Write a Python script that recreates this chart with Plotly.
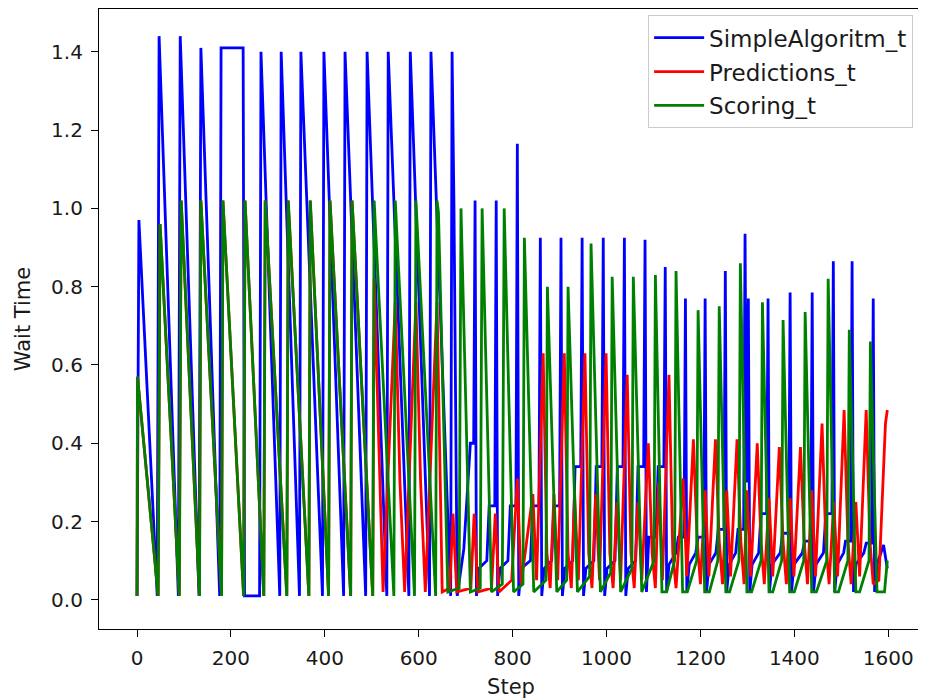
import plotly.graph_objects as go

# ---------------- data ----------------
blue_steps = [0, 4, 43, 47, 88, 92, 132, 136, 176, 179, 226, 229, 261, 264, 304, 307, 346, 349,
              395, 398, 440, 443, 487, 490, 532, 535, 579, 582, 623, 626, 668, 671, 675, 682,
              696, 710, 717, 720, 723,
              728, 745, 750, 762, 765, 768,
              773, 790, 795, 807, 810, 813,
              818, 838, 843, 856, 859, 862,
              867, 883, 888, 900, 903, 906,
              911, 928, 933, 945, 948, 951,
              956, 973, 978, 990, 993, 996,
              1001, 1018, 1023, 1035, 1038, 1041,
              1046, 1062, 1067, 1079, 1082, 1085,
              1090, 1105, 1110, 1122, 1125, 1128,
              1133, 1148, 1153, 1165, 1168, 1171,
              1176, 1190, 1195, 1207, 1210, 1213,
              1218, 1233, 1238, 1250, 1253, 1256,
              1261, 1275, 1280, 1292, 1295, 1298, 1302, 1305,
              1310, 1324, 1329, 1341, 1344, 1347,
              1352, 1370, 1375, 1388, 1391, 1394,
              1399, 1417, 1422, 1435, 1438, 1441,
              1446, 1462, 1467, 1480, 1483, 1486,
              1491, 1505, 1509, 1520, 1523, 1526,
              1531, 1548, 1553, 1565, 1568, 1571,
              1576, 1590, 1598]
blue_values = [0.01, 0.97, 0.01, 1.44, 0.01, 1.44, 0.01, 1.41, 0.01, 1.41, 1.41, 0.01, 0.01, 1.40, 0.01, 1.40, 0.01, 1.40,
               0.01, 1.40, 0.01, 1.40, 0.01, 1.40, 0.01, 1.40, 0.01, 1.40, 0.01, 1.40, 0.01, 1.40, 1.01, 0.01,
               0.13, 0.40, 0.40, 1.02, 0.01,
               0.08, 0.10, 0.24, 0.24, 1.02, 0.01,
               0.08, 0.10, 0.24, 0.24, 1.165, 0.01,
               0.08, 0.10, 0.24, 0.24, 0.925, 0.01,
               0.08, 0.10, 0.24, 0.24, 0.925, 0.01,
               0.08, 0.10, 0.34, 0.34, 0.925, 0.01,
               0.08, 0.10, 0.34, 0.34, 0.925, 0.01,
               0.08, 0.10, 0.34, 0.34, 0.925, 0.01,
               0.08, 0.10, 0.34, 0.34, 0.92, 0.02,
               0.16, 0.16, 0.34, 0.34, 0.85, 0.02,
               0.09, 0.12, 0.16, 0.16, 0.77, 0.02,
               0.09, 0.12, 0.16, 0.16, 0.77, 0.02,
               0.09, 0.12, 0.18, 0.18, 0.84, 0.02,
               0.09, 0.12, 0.18, 0.18, 0.935, 0.30, 0.77, 0.02,
               0.09, 0.12, 0.22, 0.22, 0.77, 0.02,
               0.09, 0.12, 0.17, 0.17, 0.785, 0.02,
               0.09, 0.12, 0.15, 0.15, 0.785, 0.02,
               0.09, 0.12, 0.22, 0.22, 0.865, 0.02,
               0.09, 0.12, 0.15, 0.15, 0.865, 0.02,
               0.09, 0.12, 0.145, 0.145, 0.77, 0.02,
               0.09, 0.14, 0.08]

red_steps = [0, 1, 45, 49, 90, 94, 133, 136, 180, 183, 227, 230, 270, 273, 319, 322, 366, 369,
             408, 411, 455, 458, 502, 505, 524, 550, 560, 570, 594, 604, 614, 639, 650, 666, 673, 681,
             711, 718, 726, 755, 763, 771, 798, 810, 818, 843, 851, 865, 873, 880, 888, 896, 910, 918,
             925, 932, 940, 954, 962, 969, 977, 985, 999, 1007, 1014, 1022, 1030, 1044, 1052, 1059,
             1067, 1075, 1089, 1097, 1104, 1111, 1119, 1133, 1141, 1148, 1163, 1171, 1185, 1193, 1200,
             1210, 1218, 1232, 1240, 1247, 1256, 1264, 1278, 1286, 1293, 1299, 1307, 1321, 1329, 1336,
             1346, 1354, 1368, 1376, 1383, 1391, 1399, 1413, 1421, 1428, 1437, 1445, 1459, 1467, 1474,
             1484, 1492, 1506, 1514, 1521, 1531, 1539, 1553, 1561, 1568, 1580, 1594, 1598]
red_values = [0.01, 0.57, 0.01, 0.96, 0.01, 1.02, 0.01, 1.02, 0.01, 1.02, 0.01, 1.02, 0.01, 1.02, 0.01, 1.02, 0.01, 1.02,
              0.01, 1.02, 0.01, 1.02, 0.01, 0.82, 0.02, 0.76, 0.30, 0.02, 0.76, 0.30, 0.02, 0.76, 0.02, 0.03, 0.22, 0.02,
              0.03, 0.22, 0.02, 0.03, 0.22, 0.02, 0.05, 0.31, 0.04, 0.27, 0.05, 0.63, 0.12, 0.03, 0.27, 0.05, 0.63, 0.12,
              0.03, 0.27, 0.05, 0.63, 0.12, 0.03, 0.27, 0.05, 0.63, 0.12, 0.03, 0.25, 0.05, 0.575, 0.12, 0.03,
              0.25, 0.05, 0.40, 0.12, 0.03, 0.30, 0.05, 0.575, 0.12, 0.03, 0.31, 0.06, 0.41, 0.15, 0.04,
              0.28, 0.06, 0.41, 0.15, 0.04, 0.28, 0.06, 0.41, 0.15, 0.04, 0.28, 0.06, 0.40, 0.15, 0.04,
              0.26, 0.06, 0.39, 0.15, 0.04, 0.26, 0.06, 0.39, 0.15, 0.04, 0.28, 0.06, 0.45, 0.15, 0.04,
              0.25, 0.06, 0.485, 0.15, 0.04, 0.25, 0.06, 0.485, 0.15, 0.04, 0.05, 0.45, 0.485]

green_steps = [0, 1, 45, 49, 90, 94, 133, 136, 180, 183, 227, 230, 270, 273, 319, 322, 366, 369,
               408, 411, 455, 458, 502, 505, 547, 550, 591, 594, 636, 639, 642, 662, 686, 690, 710, 731,
               735, 755, 778, 782, 802, 822, 825, 845, 871, 874, 894, 915, 918, 938, 964, 967, 987, 1009,
               1012, 1030, 1054, 1057, 1075, 1101, 1104, 1118, 1128, 1145, 1148, 1162, 1172, 1192, 1195,
               1209, 1219, 1237, 1240, 1254, 1262, 1282, 1285, 1299, 1309, 1329, 1332, 1346, 1354, 1373,
               1376, 1390, 1400, 1420, 1423, 1437, 1447, 1469, 1472, 1486, 1494, 1514, 1517, 1531, 1539,
               1559, 1562, 1576, 1592, 1598]
green_values = [0.01, 0.57, 0.01, 0.96, 0.01, 1.02, 0.01, 1.02, 0.01, 1.02, 0.01, 1.02, 0.01, 1.02, 0.01, 1.02, 0.01, 1.02,
                0.01, 1.02, 0.01, 1.02, 0.01, 1.02, 0.01, 1.02, 0.01, 1.02, 0.01, 1.02, 0.99, 0.02, 0.03, 1.00, 0.02, 0.03,
                1.00, 0.02, 0.04, 1.00, 0.02, 0.04, 0.925, 0.02, 0.05, 0.80, 0.02, 0.05, 0.80, 0.02, 0.06, 0.91, 0.02, 0.07,
                0.825, 0.02, 0.08, 0.825, 0.02, 0.10, 0.83, 0.02, 0.02, 0.10, 0.84, 0.02, 0.02, 0.10, 0.74,
                0.02, 0.02, 0.10, 0.75, 0.02, 0.02, 0.10, 0.86, 0.02, 0.02, 0.10, 0.76, 0.02, 0.02, 0.10,
                0.715, 0.02, 0.02, 0.10, 0.735, 0.02, 0.02, 0.10, 0.82, 0.02, 0.02, 0.10, 0.69, 0.02, 0.02,
                0.10, 0.66, 0.02, 0.02, 0.10]

x_ticks = [0, 200, 400, 600, 800, 1000, 1200, 1400, 1600]
y_ticks = [0.0, 0.2, 0.4, 0.6, 0.8, 1.0, 1.2, 1.4]

# ---------------- figure ----------------
FONT = "DejaVu Sans"
TXT = "#1a1a1a"
fig = go.Figure()
series = [
    ("SimpleAlgoritm_t", blue_steps, blue_values, "#0000ff"),
    ("Predictions_t", red_steps, red_values, "#ff0000"),
    ("Scoring_t", green_steps, green_values, "#008000"),
]
for name, xs, ys, col in series:
    fig.add_trace(go.Scatter(x=xs, y=ys, mode="lines", name=name, legendgroup=name,
                             line=dict(color=col, width=2.8)))

axis_common = dict(showgrid=False, zeroline=False, showline=True, mirror=True,
                   linecolor="black", linewidth=1.2, ticks="outside", ticklen=7,
                   tickwidth=1.2, tickcolor="black", automargin=False,
                   ticklabelstandoff=4,
                   tickfont=dict(family=FONT, size=20, color=TXT))

# the page body adds an 8px offset, so the figure is sized to fit the window
fig.update_layout(
    width=918, height=691,
    margin=dict(l=91, r=3, t=1, b=70),
    paper_bgcolor="white", plot_bgcolor="white",
    showlegend=True,
    legend=dict(x=0.988, y=0.99, xanchor="right", yanchor="top",
                bgcolor="rgba(255,255,255,0.85)", bordercolor="#cccccc", borderwidth=1,
                font=dict(family=FONT, size=23, color=TXT),
                tracegroupgap=1, itemwidth=50),
    xaxis=dict(range=[-81, 1674], tickvals=x_ticks,
               ticktext=[str(v) for v in x_ticks],
               title=dict(text="Step", font=dict(family=FONT, size=21, color=TXT), standoff=12),
               **axis_common),
    yaxis=dict(range=[-0.0746, 1.5094], tickvals=y_ticks,
               ticktext=[f"{v:.1f}" for v in y_ticks],
               title=dict(text="Wait Time", font=dict(family=FONT, size=21, color=TXT), standoff=14),
               **axis_common),
)

fig.write_html("out.html")
